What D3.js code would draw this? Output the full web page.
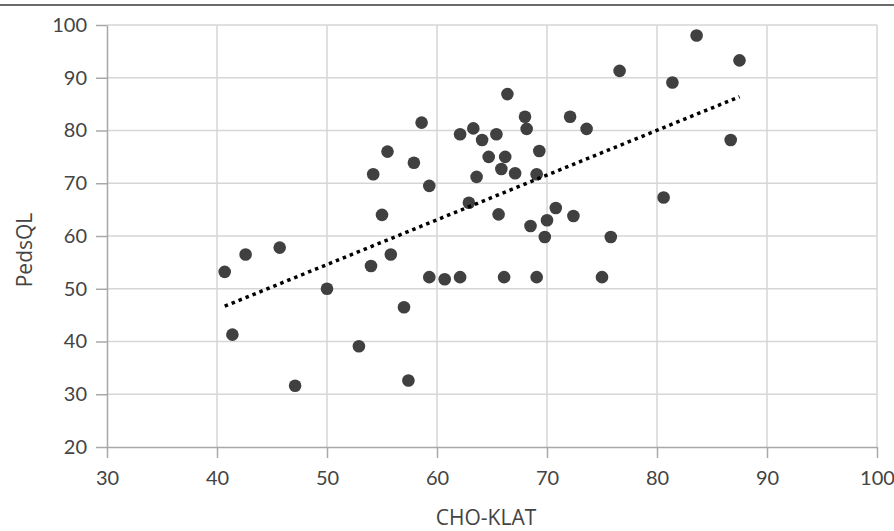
<!DOCTYPE html>
<html>
<head>
<meta charset="utf-8">
<script src="https://cdn.jsdelivr.net/npm/d3@7"></script>
<style>
  body { margin: 0; background: #fff; }
  svg { display: block; }
</style>
</head>
<body>
<div id="chart"></div>
<script>
// CHO-KLAT score (x) and PedsQL score (y) for each child
const choKlat = [40.7, 41.4, 42.6, 45.7, 47.1, 50.0, 52.9, 54.0, 54.2, 55.0,
    55.5, 55.8, 57.0, 57.4, 57.9, 58.6, 59.3, 59.3, 60.7, 62.1,
    62.1, 62.9, 63.3, 63.6, 64.1, 64.7, 65.4, 65.6, 65.85, 66.1,
    66.2, 66.4, 67.1, 68.0, 68.15, 68.5, 69.06, 69.06, 69.3, 69.8,
    70.0, 70.8, 72.1, 72.4, 73.6, 75.0, 75.8, 76.6, 80.6, 81.4,
    83.6, 86.7, 87.5];
const pedsQL = [53.2, 41.3, 56.5, 57.8, 31.6, 50.0, 39.1, 54.3, 71.7, 64.0,
    76.0, 56.5, 46.5, 32.6, 73.9, 81.5, 69.5, 52.2, 51.8, 52.2,
    79.3, 66.3, 80.4, 71.2, 78.2, 75.0, 79.3, 64.1, 72.7, 52.2,
    75.0, 86.9, 71.9, 82.6, 80.3, 61.9, 71.7, 52.2, 76.1, 59.8,
    63.0, 65.3, 82.6, 63.8, 80.3, 52.2, 59.8, 91.3, 67.3, 89.1,
    98.0, 78.2, 93.3];

// linear trend line end points
const trendX = [40.7, 87.5];
const trendY = [46.7, 86.4];

const xTicks = [30, 40, 50, 60, 70, 80, 90, 100];
const yTicks = [20, 30, 40, 50, 60, 70, 80, 90, 100];

const width = 894, height = 531;
const margin = { top: 25, right: 17, bottom: 84, left: 107 };
const plotW = width - margin.left - margin.right;
const plotH = height - margin.top - margin.bottom;

const svg = d3.select('#chart').append('svg')
    .attr('width', width)
    .attr('height', height);

// rule across the top
svg.append('line')
    .attr('x1', 0).attr('x2', width)
    .attr('y1', 5).attr('y2', 5)
    .attr('stroke', '#3a3a3a')
    .attr('stroke-width', 1.5);

const g = svg.append('g')
    .attr('transform', `translate(${margin.left},${margin.top})`);

const x = d3.scaleLinear().domain([30, 100]).range([0, plotW]);
const y = d3.scaleLinear().domain([20, 100]).range([plotH, 0]);

// grid
g.append('g')
    .selectAll('line')
    .data(xTicks.slice(1))
    .join('line')
    .attr('x1', d => x(d)).attr('x2', d => x(d))
    .attr('y1', 0).attr('y2', plotH)
    .attr('stroke', '#d6d6d6')
    .attr('stroke-width', 1.5);

g.append('g')
    .selectAll('line')
    .data(yTicks.slice(1))
    .join('line')
    .attr('x1', 0).attr('x2', plotW)
    .attr('y1', d => y(d)).attr('y2', d => y(d))
    .attr('stroke', '#d6d6d6')
    .attr('stroke-width', 1.5);

// axes
const xAxis = g.append('g')
    .attr('transform', `translate(0,${plotH})`)
    .call(d3.axisBottom(x).tickValues(xTicks).tickSize(11).tickPadding(13).tickSizeOuter(0));

const yAxis = g.append('g')
    .call(d3.axisLeft(y).tickValues(yTicks).tickSize(11).tickPadding(9).tickSizeOuter(0));

[xAxis, yAxis].forEach(ax => {
    ax.select('.domain').attr('stroke', '#a8a8a8').attr('stroke-width', 1.5);
    ax.selectAll('.tick line').attr('stroke', '#a8a8a8').attr('stroke-width', 1.5);
    ax.selectAll('.tick text')
        .attr('fill', '#444')
        .style('font-family', 'Lato, sans-serif')
        .style('font-size', '20px');
});

// points
g.append('g')
    .selectAll('circle')
    .data(choKlat.map((v, i) => [v, pedsQL[i]]))
    .join('circle')
    .attr('cx', d => x(d[0]))
    .attr('cy', d => y(d[1]))
    .attr('r', 6.3)
    .attr('fill', '#404040');

// trend line
g.append('line')
    .attr('x1', x(trendX[0])).attr('y1', y(trendY[0]))
    .attr('x2', x(trendX[1])).attr('y2', y(trendY[1]))
    .attr('stroke', '#000')
    .attr('stroke-width', 3.5)
    .attr('stroke-dasharray', '3.5 4');

// axis titles
svg.append('text')
    .attr('x', margin.left + plotW / 2 - 6)
    .attr('y', 525)
    .attr('text-anchor', 'middle')
    .attr('fill', '#444')
    .style('font-family', '"Open Sans", sans-serif')
    .style('font-size', '21px')
    .text('CHO-KLAT');

svg.append('text')
    .attr('transform', 'translate(32,250) rotate(-90)')
    .attr('text-anchor', 'middle')
    .attr('fill', '#444')
    .style('font-family', '"Open Sans", sans-serif')
    .style('font-size', '21px')
    .text('PedsQL');
</script>
</body>
</html>
